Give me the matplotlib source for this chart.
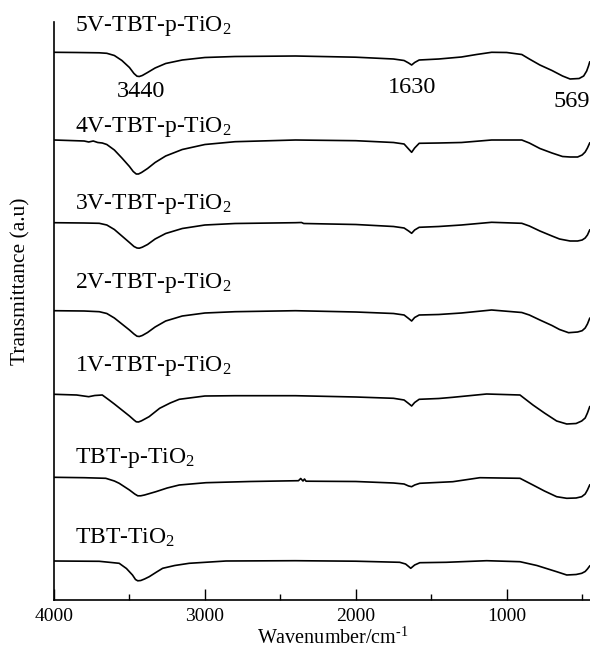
import numpy as np
import matplotlib
matplotlib.use("Agg")
import matplotlib.pyplot as plt
from matplotlib.ticker import MultipleLocator

plt.rcParams['font.family'] = ['Liberation Serif', 'DejaVu Serif']
plt.rcParams['mathtext.fontset'] = 'custom'
plt.rcParams['mathtext.rm'] = 'Liberation Serif'
plt.rcParams['mathtext.it'] = 'Liberation Serif:italic'

# spectra (wavenumber in cm-1, transmittance in a.u. incl. offset)
wn_5v = [4000, 3850, 3700, 3650, 3600, 3550, 3500, 3470, 3450, 3435, 3415, 3380, 3330, 3260, 3150, 3000,
         2800, 2400, 2000, 1750, 1680, 1650, 1630, 1610, 1580, 1450, 1300, 1200, 1100, 1000, 900,
         850, 780, 700, 630, 580, 520, 490, 470, 458, 450]
t_5v = [547.7, 547.5, 547.2, 546.7, 544.5, 539.5, 532.5, 526.5, 523.8, 523.5, 524.5, 527.5, 532, 536.5, 540, 542.5,
        543.5, 544, 542.8, 541, 539.5, 537, 535, 537.5, 540, 541, 543, 545.5, 547.7, 547.5, 545.5,
        541, 535, 529.5, 524, 521, 521.5, 524, 529, 534, 538]

wn_4v = [4000, 3900, 3800, 3770, 3740, 3710, 3680, 3650, 3600, 3550, 3500, 3475, 3455, 3440, 3420, 3380,
         3330, 3260, 3150, 3000, 2800, 2400, 2000, 1750, 1680, 1650, 1630, 1610, 1580, 1450, 1300,
         1100, 900, 850, 780, 700, 630, 580, 530, 500, 480, 465, 450]
t_4v = [460, 459.5, 459, 458, 459, 457.5, 457, 455.5, 450, 442, 433.5, 428.5, 426, 426, 427.5, 431.5,
        437.5, 444, 450.5, 455.5, 458.3, 460, 459.3, 457.5, 456, 451, 447.7, 452, 456.7, 457, 457.5,
        460, 460, 457, 451.5, 447, 443.5, 443, 443, 445, 448, 452, 457]

wn_3v = [4000, 3800, 3700, 3650, 3600, 3550, 3500, 3470, 3450, 3435, 3415, 3380, 3330, 3260, 3150, 3000,
         2800, 2400, 2360, 2345, 2000, 1750, 1680, 1650, 1630, 1610, 1580, 1450, 1300, 1100, 900,
         850, 780, 700, 650, 580, 530, 500, 480, 465, 450]
t_3v = [377.3, 377, 376.7, 375, 370.5, 364, 357.5, 353.5, 352, 351.8, 352.8, 355.5, 361, 366.5, 371.5, 375,
        376.5, 377.3, 377.5, 376.5, 375.5, 373.5, 372, 369, 366.7, 370, 372.7, 373.5, 375, 377.7, 376.7,
        374, 369, 364, 361, 359, 359, 360, 362, 365, 370]

wn_2v = [4000, 3800, 3700, 3650, 3600, 3550, 3500, 3470, 3450, 3435, 3415, 3380, 3330, 3260, 3150, 3000,
         2800, 2400, 2000, 1750, 1680, 1650, 1630, 1610, 1580, 1450, 1300, 1100, 900, 850, 780,
         700, 650, 590, 530, 500, 480, 465, 450]
t_2v = [289.3, 289, 288.3, 286.5, 282, 276, 270, 266, 263.8, 263.5, 264.5, 267.5, 273, 279, 284, 287,
        288.3, 289.3, 288, 286.5, 285, 281.5, 279, 282.5, 285, 285.5, 287, 290, 287.5, 285, 280,
        274.5, 270.5, 267.3, 268, 269.3, 272, 276, 281.7]

wn_1v = [4000, 3850, 3770, 3730, 3680, 3635, 3600, 3550, 3500, 3470, 3455, 3440, 3420, 3370, 3300, 3230,
         3170, 3000, 2800, 2400, 2000, 1750, 1680, 1650, 1630, 1610, 1580, 1450, 1357, 1133, 912,
         826, 750, 669, 602, 540, 503, 480, 465, 450]
t_1v = [205.7, 205, 203.3, 204.5, 205, 200, 196, 190, 184, 180, 178.2, 178, 179.2, 183.3, 191.7, 197,
        200.7, 204, 204.3, 204.3, 203, 201.7, 200, 196.5, 194, 197.5, 200.7, 201.5, 202.7, 206, 205,
        195, 187, 179, 176, 176.5, 179, 182, 187, 193.3]

wn_p = [4000, 3800, 3657, 3600, 3568, 3500, 3465, 3445, 3425, 3400, 3325, 3250, 3170, 2993, 2700, 2380,
        2365, 2350, 2340, 2330, 2000, 1750, 1680, 1650, 1630, 1610, 1576, 1357, 1178, 912, 826,
        750, 669, 602, 540, 503, 480, 465, 450]
t_p = [122.7, 122.3, 121.7, 119, 116.7, 110, 106, 104.2, 104.2, 105, 108.3, 112, 115, 117.3, 118.5, 119.3,
       121.5, 119, 121, 118.8, 118.5, 117, 116, 114, 113.3, 115, 116.7, 118.3, 122.3, 121.7, 115,
       109, 103.3, 101.7, 102, 103.3, 106, 110, 115]

wn_0 = [4000, 3800, 3700, 3640, 3568, 3520, 3480, 3460, 3445, 3425, 3400, 3369, 3320, 3280, 3200, 3104, 2860,
        2400, 2000, 1709, 1670, 1650, 1636, 1610, 1576, 1400, 1133, 912, 800, 669, 602, 540,
        503, 480, 465, 450]
t_0 = [39, 38.8, 38.7, 37.8, 36.7, 31.5, 25, 20.5, 19.2, 19.5, 21, 23.3, 28, 31.7, 34.5, 36.7, 39,
       39.3, 38.8, 37.7, 36, 33.5, 31.7, 35, 37.3, 37.7, 39.3, 38.3, 34.5, 28.3, 25, 25.5,
       26.7, 28.5, 31, 34]

labels = ['5V-TBT-p-TiO$_2$', '4V-TBT-p-TiO$_2$', '3V-TBT-p-TiO$_2$', '2V-TBT-p-TiO$_2$',
          '1V-TBT-p-TiO$_2$', 'TBT-p-TiO$_2$', 'TBT-TiO$_2$']
label_y = [569, 468.3, 390.7, 311.7, 229.3, 136.7, 56.7]

peak_wn = [3422, 1625, 567]
peak_txt = ['3440', '1630', '569']
peak_y = [508.3, 512.7, 498.3]

fig = plt.figure(figsize=(5.9, 6.52), dpi=100)
ax = fig.add_axes([54 / 590, 52 / 652, 536 / 590, 578 / 652])

for wn, t in [(wn_5v, t_5v), (wn_4v, t_4v), (wn_3v, t_3v), (wn_2v, t_2v),
              (wn_1v, t_1v), (wn_p, t_p), (wn_0, t_0)]:
    ax.plot(wn, t, color='black', lw=1.2)

for lab, y in zip(labels, label_y):
    ax.text(3860, y, lab, fontsize=17, ha='left', va='baseline')

for w, s, y in zip(peak_wn, peak_txt, peak_y):
    ax.text(w, y, s, fontsize=17.5, ha='center', va='center', clip_on=False)

ax.set_xlim(4000, 448)
ax.set_ylim(0, 578)
ax.xaxis.set_major_locator(MultipleLocator(1000))
ax.xaxis.set_minor_locator(MultipleLocator(500))
ax.tick_params(axis='x', which='major', direction='in', length=8, width=1, labelsize=14, pad=6)
ax.tick_params(axis='x', which='minor', direction='in', length=4, width=1)
ax.set_yticks([])
for side in ['top', 'right']:
    ax.spines[side].set_visible(False)
for side in ['left', 'bottom']:
    ax.spines[side].set_linewidth(1.2)

ax.set_xlabel(r'Wavenumber/cm$^{\text{-1}}$', fontsize=14.5)
ax.xaxis.set_label_coords(0.52, -28 / 578)
ax.set_ylabel('Transmittance (a.u)', fontsize=15.5)
ax.yaxis.set_label_coords(-24 / 536, 0.551)

fig.savefig('out.png', dpi=100)
